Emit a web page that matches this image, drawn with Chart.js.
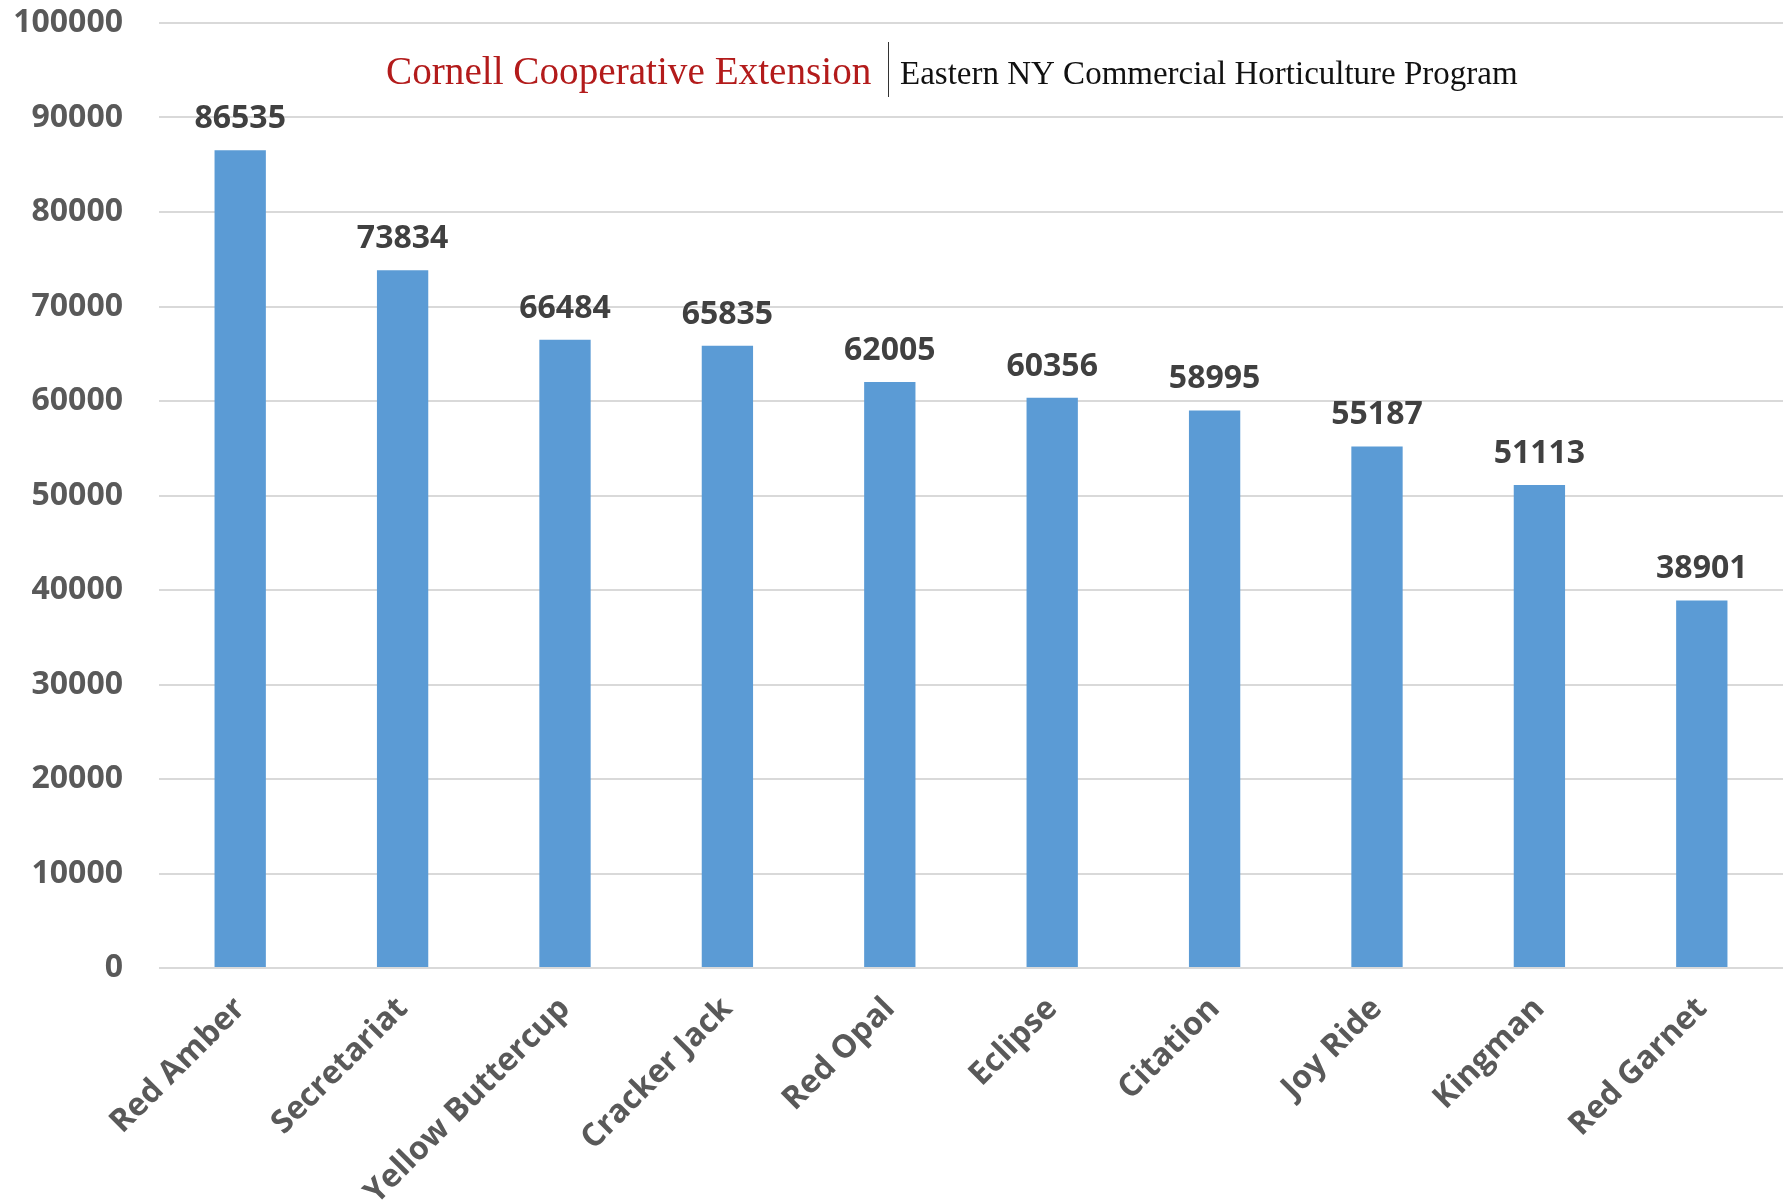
<!DOCTYPE html>
<html>
<head>
<meta charset="utf-8">
<title>Variety yields</title>
<script src="https://cdn.jsdelivr.net/npm/chart.js@4/dist/chart.umd.min.js"></script>
<style>
	html, body { margin: 0; padding: 0; background: #ffffff; }
	#wrap { width: 1790px; height: 1202px; position: relative; }
</style>
</head>
<body>
<div id="wrap"><canvas id="canvas0"></canvas></div>
<script>
// values
const varieties = ['Red Amber', 'Secretariat', 'Yellow Buttercup', 'Cracker Jack', 'Red Opal', 'Eclipse', 'Citation', 'Joy Ride', 'Kingman', 'Red Garnet'];
const yields = [86535, 73834, 66484, 65835, 62005, 60356, 58995, 55187, 51113, 38901];
const yMin = 0;
const yMax = 100000;
const yStep = 10000;

const headerLeft = 'Cornell Cooperative Extension';
const headerRight = 'Eastern NY Commercial Horticulture Program';

const labelFont = { family: '"Open Sans", "DejaVu Sans", sans-serif', size: 32, weight: 'bold' };


/**
 * Writes the value on top of every bar.
 */
const barValues = {
	id: 'barValues',
	afterDatasetsDraw(chart) {
		const ctx = chart.ctx;
		const meta = chart.getDatasetMeta(0);
		ctx.save();
		ctx.font = 'bold 32px "Open Sans", "DejaVu Sans", sans-serif';
		ctx.fillStyle = '#404040';
		ctx.textAlign = 'center';
		ctx.textBaseline = 'alphabetic';
		meta.data.forEach((bar, i) => {
			ctx.fillText(yields[i].toString(), bar.x, bar.y - 22);
		});
		ctx.restore();
	}
};


// fit a serif text into a given width
function fitFont(ctx, text, width) {
	ctx.font = '40px "Liberation Serif", "DejaVu Serif", serif';
	const size = 40 * width / ctx.measureText(text).width;
	return size.toFixed(1) + 'px "Liberation Serif", "DejaVu Serif", serif';
}

/**
 * The extension header in the top of the plot.
 */
const header = {
	id: 'header',
	afterDraw(chart) {
		const ctx = chart.ctx;
		ctx.save();
		ctx.textBaseline = 'alphabetic';
		ctx.textAlign = 'left';

		ctx.font = fitFont(ctx, headerLeft, 486);
		ctx.fillStyle = '#b31b1b';
		ctx.fillText(headerLeft, 386, 84);

		ctx.strokeStyle = '#333333';
		ctx.lineWidth = 1;
		ctx.beginPath();
		ctx.moveTo(888.5, 42);
		ctx.lineTo(888.5, 97);
		ctx.stroke();

		ctx.font = fitFont(ctx, headerRight, 618);
		ctx.fillStyle = '#111111';
		ctx.fillText(headerRight, 900, 84);
		ctx.restore();
	}
};


const canvas0 = document.getElementById('canvas0');

new Chart(canvas0.getContext('2d'), {
	type: 'bar',
	data: {
		labels: varieties,
		datasets: [{
			data: yields,
			backgroundColor: '#5b9bd5',
			borderWidth: 0,
			categoryPercentage: 1,
			barPercentage: 0.316
		}]
	},
	options: {
		responsive: true,
		maintainAspectRatio: false,
		animation: false,
		layout: { padding: { top: 23, right: 7, left: 0, bottom: 0 } },
		plugins: {
			legend: { display: false },
			tooltip: { enabled: false }
		},
		scales: {
			x: {
				grid: { display: false },
				border: { display: false },
				ticks: {
					minRotation: 45,
					maxRotation: 45,
					autoSkip: false,
					padding: 14,
					color: '#595959',
					font: labelFont
				},
				afterFit(scale) {
					scale.height = 234;
					scale.paddingLeft = 0;
					scale.paddingRight = 0;
				}
			},
			y: {
				min: yMin,
				max: yMax,
				grid: { color: '#d9d9d9', lineWidth: 2, drawTicks: false },
				border: { display: false },
				ticks: {
					stepSize: yStep,
					padding: 36,
					color: '#595959',
					font: labelFont,
					callback: (value) => value.toString()
				},
				afterFit(scale) {
					scale.width = 159;
					scale.paddingTop = 0;
					scale.paddingBottom = 0;
				}
			}
		}
	},
	plugins: [barValues, header]
});
</script>
</body>
</html>
